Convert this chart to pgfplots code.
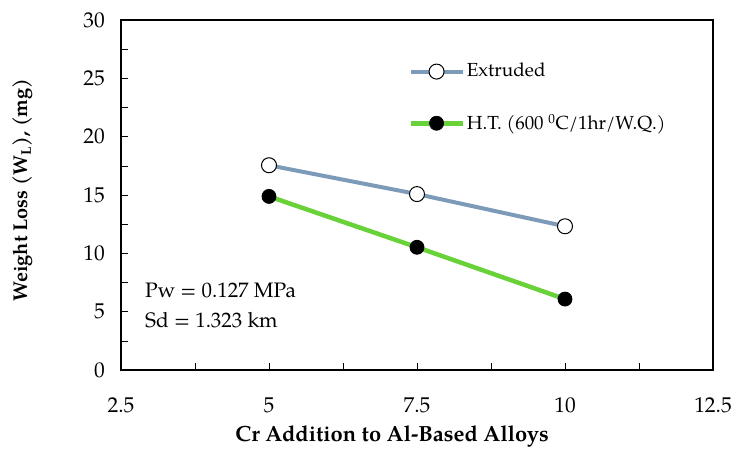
\documentclass[border=0pt]{standalone}
\usepackage{fontspec}
\setmainfont{TeX Gyre Pagella}
\usepackage{pgfplots}
\pgfplotsset{compat=1.18}
\definecolor{extc}{RGB}{125,155,185}
\definecolor{htc}{RGB}{104,210,56}
\begin{document}
\fontsize{21}{25}\selectfont
\begin{tikzpicture}
\useasboundingbox (-121bp,-80bp) rectangle (613bp,370bp);
\begin{axis}[
  at={(0,0)}, anchor=south west,
  scale only axis,
  width=592bp, height=350bp,
  xmin=2.5, xmax=12.5, ymin=0, ymax=30,
  xtick={2.5,5,7.5,10,12.5},
  xticklabels={2.5,5,7.5,10,12.5},
  ytick={0,5,...,30},
  minor x tick num=1, minor y tick num=1,
  tick align=inside, tick pos=left,
  major tick length=7bp, minor tick length=7bp,
  axis line style={line width=2bp},
  every tick/.style={black, line width=0.6bp},
  /pgf/number format/assume math mode=true,
  tick label style={font=\fontsize{21.5}{25}\selectfont},
  xticklabel style={anchor=center, yshift=-35bp},
  yticklabel style={anchor=east, inner sep=0pt, xshift=-16bp},
  xlabel={\textbf{Cr Addition to Al-Based Alloys}},
  ylabel={\textbf{Weight Loss (W\textsubscript{L}), (mg)}},
  xlabel style={font=\fontsize{22}{26}\selectfont, at={(axis description cs:0.458,-0.19)}, anchor=center},
  ylabel style={font=\fontsize{20}{24}\selectfont, at={(axis description cs:-0.1655,0.514)}, anchor=center},
  legend style={draw=none, fill=none, at={(0.485,0.883)}, anchor=north west,
    font=\fontsize{19}{22}\selectfont, row sep=30bp, inner sep=0pt},
  legend cell align=left,
  legend image code/.code={\draw[mark repeat=2,mark phase=2,#1] plot coordinates {(0bp,0bp) (26bp,0bp) (52bp,0bp)};},
]
\addplot[extc, line width=4bp, mark=*, mark size=7.5bp, mark options={fill=white, draw=black, line width=1bp}]
  coordinates {(5,17.55) (7.5,15.08) (10,12.32)};
\addlegendentry{Extruded}
\addplot[htc, line width=4.5bp, mark=*, mark size=7bp, mark options={fill=black, draw=black, line width=0.8bp}]
  coordinates {(5,14.88) (7.5,10.52) (10,6.08)};
\addlegendentry{H.T. (600 \textsuperscript{0}C/1hr/W.Q.)}
\node[anchor=west, inner sep=0pt, font=\fontsize{21}{25}\selectfont] at (axis cs:2.905,6.85) {Pw = 0.127 MPa};
\node[anchor=west, inner sep=0pt, font=\fontsize{21}{25}\selectfont] at (axis cs:2.905,4.3) {Sd = 1.323 km};
\end{axis}
\end{tikzpicture}
\end{document}
